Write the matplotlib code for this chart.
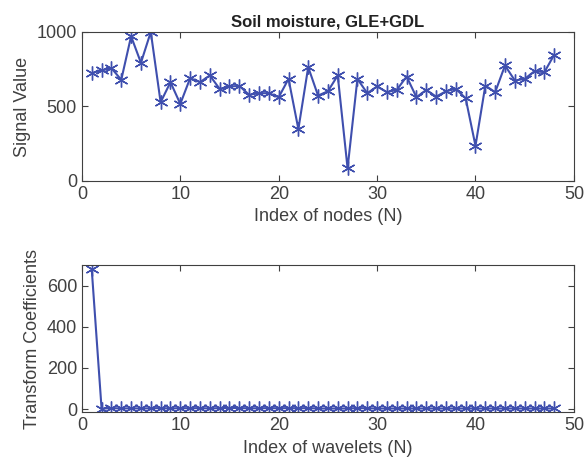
import numpy as np
from matplotlib import pyplot as plt

plt.rcParams["font.family"] = ["Liberation Sans", "DejaVu Sans"]

# Signal values of the 48 nodes
node_index = np.arange(1, 49)
signal_values = [
    724, 742, 757, 679, 971, 793, 1000, 528, 663, 517,
    690, 663, 708, 618, 634, 638, 578, 589, 589, 562,
    685, 348, 764, 573, 602, 708, 85, 685, 589, 634,
    596, 611, 701, 562, 611, 566, 602, 618, 555, 236,
    640, 596, 775, 674, 685, 737, 730, 847,
]

# Transform coefficients of the 48 wavelets
wavelet_index = np.arange(1, 49)
coefficients = [
    679, 2, 5, 3, 4, 3, 4, 5, 3, 5,
    4, 5, 3, 5, 6, 5, 4, 4, 5, 4,
    5, 4, 5, 3, 3, 3, 3, 5, 4, 3,
    3, 3, 3, 3, 3, 3, 3, 3, 3, 3,
    3, 3, 3, 3, 3, 3, 3, 3,
]

line_color = "#3f4fae"
text_color = "#404040"


def style_axes(ax):
    ax.tick_params(direction="in", top=True, right=True, labelsize=13,
                   colors=text_color, length=4, width=0.8)
    for spine in ax.spines.values():
        spine.set_color(text_color)
        spine.set_linewidth(0.8)


fig = plt.figure(figsize=(5.85, 4.7), dpi=100)
ax1 = fig.add_axes([0.140, 0.615, 0.841, 0.317])
ax2 = fig.add_axes([0.140, 0.123, 0.841, 0.313])

ax1.plot(node_index, signal_values, color=line_color, linewidth=1.5,
         marker=(6, 2, 0), markersize=10, markeredgewidth=1.0)
ax1.set_xlim(0, 50)
ax1.set_ylim(0, 1000)
ax1.set_xticks([0, 10, 20, 30, 40, 50])
ax1.set_yticks([0, 500, 1000])
ax1.set_xlabel("Index of nodes (N)", fontsize=13, color=text_color)
ax1.set_ylabel("Signal Value", fontsize=13, color=text_color)
ax1.set_title("Soil moisture, GLE+GDL", fontsize=12, fontweight="bold",
              color="#222222", pad=4)
style_axes(ax1)

ax2.plot(wavelet_index, coefficients, color=line_color, linewidth=1.5,
         marker=(6, 2, 0), markersize=10, markeredgewidth=1.0)
ax2.set_xlim(0, 50)
ax2.set_ylim(-15, 700)
ax2.set_xticks([0, 10, 20, 30, 40, 50])
ax2.set_yticks([0, 200, 400, 600])
ax2.set_xlabel("Index of wavelets (N)", fontsize=13, color=text_color)
ax2.set_ylabel("Transform Coefficients", fontsize=13, color=text_color)
style_axes(ax2)

fig.savefig("out.png", dpi=100)
